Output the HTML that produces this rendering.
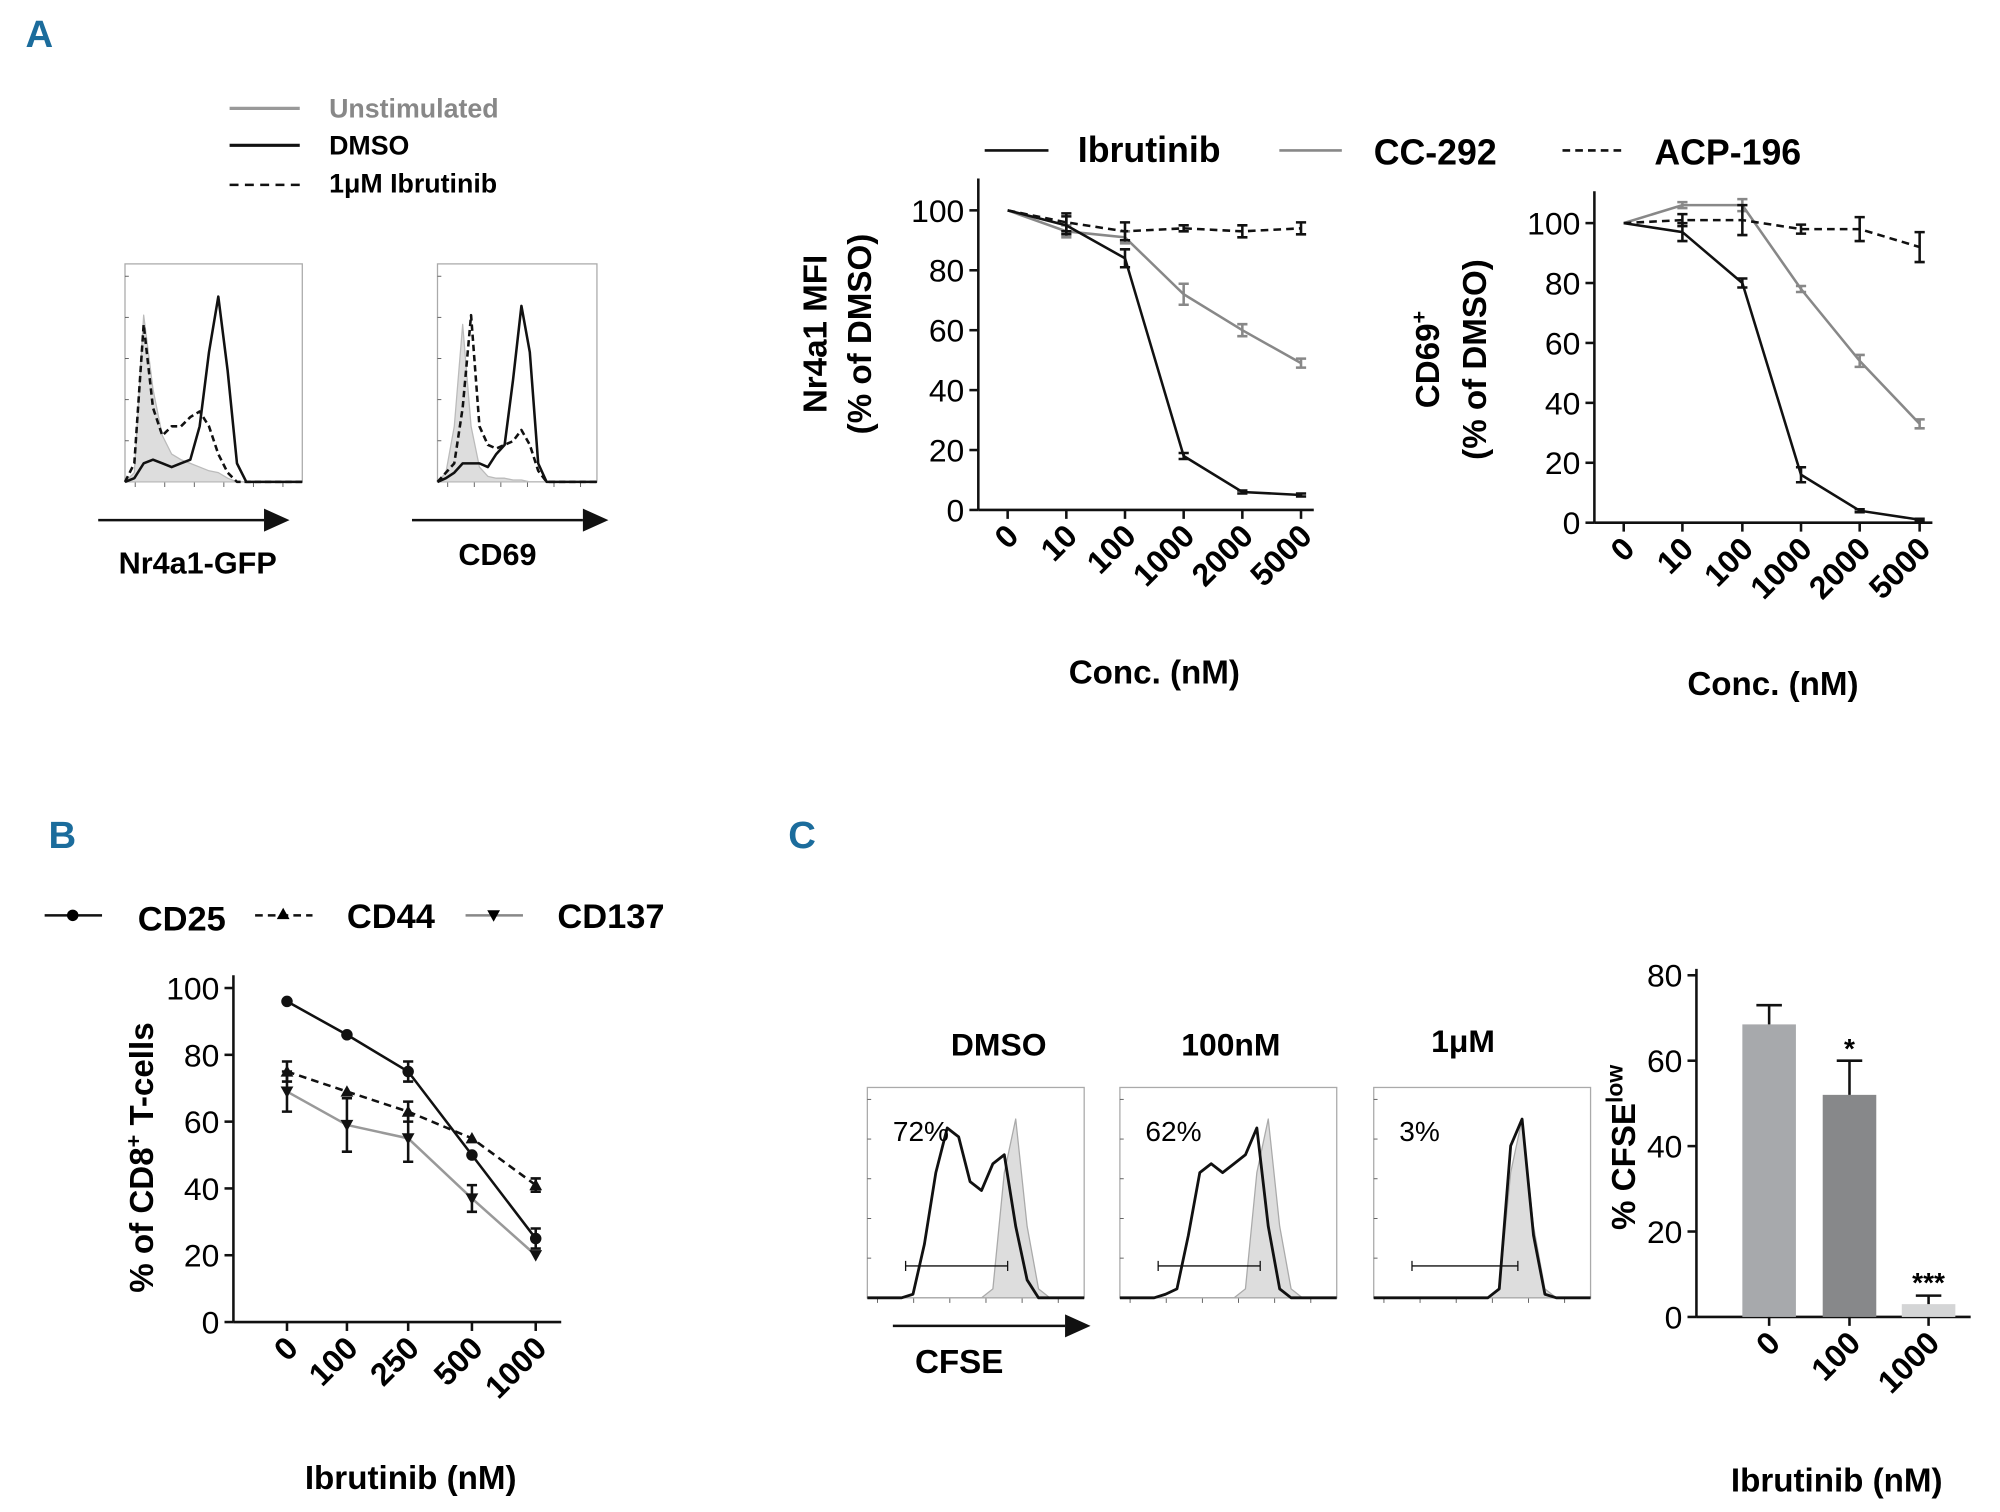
<!DOCTYPE html>
<html><head><meta charset="utf-8">
<style>
html,body{margin:0;padding:0;background:#fff;}
svg{display:block;}
text{font-family:"Liberation Sans",sans-serif;}
.b{font-weight:bold;}
.pl{font-family:"Liberation Sans Narrow","Liberation Sans",sans-serif;font-weight:bold;fill:#1b6c9c;font-size:30px;}
</style></head>
<body>
<svg id="s" width="2000" height="1512" viewBox="0 0 1568 1186" preserveAspectRatio="none" xmlns="http://www.w3.org/2000/svg">
<text x="20" y="37" class="pl">A</text>
<text x="38" y="665" class="pl">B</text>
<text x="618" y="665" class="pl">C</text>

<g font-size="21" class="b">
<line x1="180" y1="85" x2="235" y2="85" stroke="#999" stroke-width="2.5"/><text x="258" y="92" fill="#888" class="b">Unstimulated</text>
<line x1="180" y1="114" x2="235" y2="114" stroke="#111" stroke-width="2.5"/><text x="258" y="121" class="b">DMSO</text>
<line x1="180" y1="145" x2="235" y2="145" stroke="#111" stroke-width="2" stroke-dasharray="7,5"/><text x="258" y="151" class="b">1μM Ibrutinib</text>
</g>
<g id="hists"></g>
<line x1="77" y1="408" x2="207" y2="408" stroke="#111" stroke-width="2"/><path d="M207,399 L227,408 L207,417z" fill="#111"/>
<line x1="323" y1="408" x2="457" y2="408" stroke="#111" stroke-width="2"/><path d="M457,399 L477,408 L457,417z" fill="#111"/>
<text x="155" y="450" text-anchor="middle" font-size="24" class="b">Nr4a1-GFP</text>
<text x="390" y="443" text-anchor="middle" font-size="24" class="b">CD69</text>

<g font-size="28" class="b">
<line x1="772" y1="118" x2="822" y2="118" stroke="#111" stroke-width="2"/><text x="845" y="127" class="b">Ibrutinib</text>
<line x1="1003" y1="118" x2="1052" y2="118" stroke="#888" stroke-width="2"/><text x="1077" y="129" class="b">CC-292</text>
<line x1="1225" y1="118" x2="1272" y2="118" stroke="#111" stroke-width="2" stroke-dasharray="6,4"/><text x="1297" y="129" class="b">ACP-196</text>
</g>
<g id="a1"></g><g id="a2"></g><g id="bb"></g><g id="cc"></g>

<g font-size="27" class="b">
<line x1="35" y1="718" x2="80" y2="718" stroke="#111" stroke-width="2"/><circle cx="57" cy="718" r="4.5"/><text x="108" y="730" class="b">CD25</text>
<line x1="200" y1="718" x2="245" y2="718" stroke="#111" stroke-width="2" stroke-dasharray="6,4"/><path d="M222,712 L227,721 L217,721z"/><text x="272" y="728" class="b">CD44</text>
<line x1="365" y1="718" x2="410" y2="718" stroke="#888" stroke-width="2"/><path d="M382,714 L392,714 L387,723z"/><text x="437" y="728" class="b">CD137</text>
</g>
<g font-size="25" class="b">
<text x="783" y="828" text-anchor="middle" class="b">DMSO</text>
<text x="965" y="828" text-anchor="middle" class="b">100nM</text>
<text x="1147" y="825" text-anchor="middle" class="b">1μM</text>
</g>
<line x1="700" y1="1040" x2="835" y2="1040" stroke="#111" stroke-width="2"/><path d="M835,1031 L855,1040 L835,1049z" fill="#111"/>
<text x="752" y="1077" text-anchor="middle" font-size="26" class="b">CFSE</text>
</svg>
<script>
const NS="http://www.w3.org/2000/svg";
function mk(p,t,a,txt){const e=document.createElementNS(NS,t);for(const k in a)e.setAttribute(k,a[k]);if(txt!==undefined)e.textContent=txt;p.appendChild(e);return e;}

const a1Cats=["0","10","100","1000","2000","5000"];
const a1Ibr=[100,95,84,18,6,5];const a1IbrE=[0,3,3,1,0.5,0.5];
const a1Cc=[100,93,91,72,60,49];const a1CcE=[0,2,2,3.5,2,1.5];
const a1Acp=[100,96,93,94,93,94];const a1AcpE=[0,3,3,1,2,2];
const a1Ticks=[0,20,40,60,80,100];
const a2Ibr=[100,97,80,16,4,1];const a2IbrE=[0,3,1.5,2.5,0.5,0.3];
const a2Cc=[100,106,106,78,54,33];const a2CcE=[0,1,2,1,2,1.5];
const a2Acp=[100,101,101,98,98,92];const a2AcpE=[0,2,5,1.5,4,5];
const bCats=["0","100","250","500","1000"];
const bCd25=[96,86,75,50,25];const bCd25E=[0,0,3,0,3];
const bCd44=[75,69,63,55,41];const bCd44E=[3,0,3,0,2];
const bCd137=[69,59,55,37,20];const bCd137E=[6,8,7,4,0];
const bTicks=[0,20,40,60,80,100];
const cCats=["0","100","1000"];
const cVals=[68.5,52,3];const cErr=[4.5,8,2];
const cStars=["","*","***"];
const cTicks=[0,20,40,60,80];
const hUnst1=[0,.05,.9,.5,.25,.15,.12,.1,.08,.06,.05,.02,0,0,0,0,0,0,0,0];
const hDmso1=[0,.02,.1,.12,.1,.08,.1,.12,.3,.7,1,.6,.1,0,0,0,0,0,0,0];
const hIbr1=[0,.1,.85,.4,.25,.3,.3,.35,.38,.3,.15,.05,0,0,0,0,0,0,0,0];
const hUnst2=[0,.05,.3,.85,.3,.08,.03,.02,.02,.01,.01,0,0,0,0,0,0,0,0,0];
const hDmso2=[0,.02,.05,.1,.1,.1,.08,.15,.2,.55,.95,.7,.1,0,0,0,0,0,0,0];
const hIbr2=[0,.05,.1,.4,.9,.3,.2,.18,.2,.22,.28,.2,.06,0,0,0,0,0,0,0];

function lineChart(g,o){
  const {x0,yTop,yBot,xs,yScale,ticks,cats,series,xEnd}=o;
  const y=v=>o.y0-v*yScale;
  mk(g,"line",{x1:x0,y1:yTop,x2:x0,y2:yBot,stroke:"#111","stroke-width":2});
  mk(g,"line",{x1:x0,y1:yBot,x2:xEnd,y2:yBot,stroke:"#111","stroke-width":2});
  ticks.forEach(t=>{mk(g,"line",{x1:x0-7,y1:y(t),x2:x0,y2:y(t),stroke:"#111","stroke-width":2});
    const tx=mk(g,"text",{x:x0-11,y:y(t)+9,"text-anchor":"end","font-size":o.tf||25},String(t));
    
    });
  cats.forEach((c,i)=>{const x=xs[i];mk(g,"line",{x1:x,y1:yBot,x2:x,y2:yBot+7,stroke:"#111","stroke-width":2});
    const tx=mk(g,"text",{x:x+10,y:yBot+22,"text-anchor":"end","font-size":o.tf||25,"font-weight":"bold",transform:`rotate(-45 ${x+10} ${yBot+22})`},c);
    
    });
  series.forEach(s=>{
    const pts=s.v.map((v,i)=>xs[i]+","+y(v)).join(" ");
    const pl=mk(g,"polyline",{points:pts,fill:"none",stroke:s.c,"stroke-width":2,"stroke-dasharray":s.d||"none"});
    
    
    s.v.forEach((v,i)=>{const e=s.e[i];if(e>0){const a=y(v+e),b=y(v-e);
      mk(g,"path",{d:`M${xs[i]},${a}V${b}M${xs[i]-4},${a}H${xs[i]+4}M${xs[i]-4},${b}H${xs[i]+4}`,stroke:s.ec||s.c,"stroke-width":2,fill:"none"});}
      if(s.m){const X=xs[i],Y=y(v);
        if(s.m=="c")mk(g,"circle",{cx:X,cy:Y,r:4.5,fill:s.c});
        else if(s.m=="t")mk(g,"path",{d:`M${X},${Y-5}L${X+5},${Y+4}L${X-5},${Y+4}z`,fill:"#111"});
        else mk(g,"path",{d:`M${X-5},${Y-4}L${X+5},${Y-4}L${X},${Y+5}z`,fill:"#111"});}
    });
  });
}
const A1=document.getElementById("a1");
lineChart(A1,{x0:767,yTop:140,yBot:400,y0:400,yScale:2.35,xEnd:1030,ticks:a1Ticks,cats:a1Cats,xs:[790,836,882,928,974,1020],
 series:[{v:a1Cc,e:a1CcE,c:"#888",n:"cc292-line"},{v:a1Acp,e:a1AcpE,c:"#111",d:"6,4",n:"acp196-line"},{v:a1Ibr,e:a1IbrE,c:"#111",n:"ibrutinib-line"}]});
mk(A1,"text",{x:0,y:0,transform:"translate(648,262) rotate(-90)","text-anchor":"middle","font-size":26,"font-weight":"bold"},"Nr4a1 MFI");
mk(A1,"text",{x:0,y:0,transform:"translate(683,262) rotate(-90)","text-anchor":"middle","font-size":26,"font-weight":"bold"},"(% of DMSO)");
mk(A1,"text",{x:905,y:536,"text-anchor":"middle","font-size":26,"font-weight":"bold"},"Conc. (nM)");

const A2=document.getElementById("a2");
lineChart(A2,{x0:1250,yTop:150,yBot:410,y0:410,yScale:2.35,xEnd:1515,ticks:a1Ticks,cats:a1Cats,xs:[1273,1319,1366,1412,1458,1505],
 series:[{v:a2Cc,e:a2CcE,c:"#888",n:"cc292-line"},{v:a2Acp,e:a2AcpE,c:"#111",d:"6,4",n:"acp196-line"},{v:a2Ibr,e:a2IbrE,c:"#111",n:"ibrutinib-line"}]});
const t2=mk(A2,"text",{x:0,y:0,transform:"translate(1128,282) rotate(-90)","text-anchor":"middle","font-size":26,"font-weight":"bold"},"CD69");
mk(t2,"tspan",{dy:-10,"font-size":17},"+");
mk(A2,"text",{x:0,y:0,transform:"translate(1165,282) rotate(-90)","text-anchor":"middle","font-size":26,"font-weight":"bold"},"(% of DMSO)");
mk(A2,"text",{x:1390,y:545,"text-anchor":"middle","font-size":26,"font-weight":"bold"},"Conc. (nM)");

const B=document.getElementById("bb");
lineChart(B,{x0:183,yTop:765,yBot:1037,y0:1037,yScale:2.62,xEnd:440,ticks:bTicks,cats:bCats,xs:[225,272,320,370,420],
 series:[{v:bCd137,e:bCd137E,c:"#999",ec:"#111",m:"v",n:"cd137-line"},{v:bCd44,e:bCd44E,c:"#111",d:"6,4",m:"t",n:"cd44-line"},{v:bCd25,e:bCd25E,c:"#111",m:"c",n:"cd25-line"}]});
const tb=mk(B,"text",{x:0,y:0,transform:"translate(120,908) rotate(-90)","text-anchor":"middle","font-size":26,"font-weight":"bold"},"% of CD8");
mk(tb,"tspan",{dy:-10,"font-size":17},"+");mk(tb,"tspan",{dy:10}," T-cells");
mk(B,"text",{x:322,y:1168,"text-anchor":"middle","font-size":26,"font-weight":"bold"},"Ibrutinib (nM)");

const C=document.getElementById("cc");
(function(){const x0=1330,yb=1033,sc=3.35,y=v=>yb-v*sc,xs=[1387,1450,1512],cols=["#a7a9ac","#87888a","#d4d5d6"];
 mk(C,"line",{x1:x0,y1:760,x2:x0,y2:yb,stroke:"#111","stroke-width":2});
 mk(C,"line",{x1:x0,y1:yb,x2:1545,y2:yb,stroke:"#111","stroke-width":2});
 cTicks.forEach(t=>{mk(C,"line",{x1:x0-7,y1:y(t),x2:x0,y2:y(t),stroke:"#111","stroke-width":2});
  const tx=mk(C,"text",{x:x0-11,y:y(t)+9,"text-anchor":"end","font-size":25},String(t));
  
  });
 cCats.forEach((c,i)=>{const x=xs[i];
  const r=mk(C,"rect",{x:x-21,y:y(cVals[i]),width:42,height:cVals[i]*sc,fill:cols[i]});
  
  
  const top=y(cVals[i]+cErr[i]);
  mk(C,"path",{d:`M${x},${y(cVals[i])}V${top}M${x-10},${top}H${x+10}`,stroke:"#111","stroke-width":2,fill:"none"});
  if(cStars[i])mk(C,"text",{x:x,y:top+(cStars[i]=="*"?-2:-3),"text-anchor":"middle","font-size":22,"font-weight":"bold"},cStars[i]);
  mk(C,"line",{x1:x,y1:yb,x2:x,y2:yb+7,stroke:"#111","stroke-width":2});
  mk(C,"text",{x:x+10,y:yb+22,"text-anchor":"end","font-size":25,"font-weight":"bold",transform:`rotate(-45 ${x+10} ${yb+22})`},c);});
 const t=mk(C,"text",{x:0,y:0,transform:"translate(1282,900) rotate(-90)","text-anchor":"middle","font-size":26,"font-weight":"bold"},"% CFSE");
 mk(t,"tspan",{dy:-10,"font-size":18},"low");
 mk(C,"text",{x:1440,y:1170,"text-anchor":"middle","font-size":26,"font-weight":"bold"},"Ibrutinib (nM)");
})();

const H=document.getElementById("hists");
function hist(x,y,w,h,curves,name,extra){
  const g=mk(H,"g",{});
  mk(g,"rect",{x:x,y:y,width:w,height:h,fill:"none",stroke:"#aaa","stroke-width":1});
  for(let i=0;i<6;i++){const yy=y+h-i*h/5.3;mk(g,"line",{x1:x,y1:yy,x2:x+3,y2:yy,stroke:"#555","stroke-width":.7});}
  for(let i=0;i<6;i++){const xx=x+8+i*w/6;mk(g,"line",{x1:xx,y1:y+h,x2:xx,y2:y+h+4,stroke:"#555","stroke-width":.7});}
  curves.forEach(c=>{const n=c.v.length;let d=`M${x},${y+h}`;
    c.v.forEach((v,i)=>{d+=`L${x+i*w/(n-1)},${y+h-v*h*0.85}`;});
    if(c.fill)d+=`L${x+w},${y+h}z`;
    mk(g,"path",{d:d,fill:c.fill||"none",stroke:c.s,"stroke-width":c.sw||2,"stroke-dasharray":c.d||"none","stroke-linejoin":"round"});});
  if(extra)extra(g);
}
hist(98,207,139,171,[{v:hUnst1,fill:"#ddd",s:"#bbb",sw:1},{v:hIbr1,s:"#111",d:"5,3"},{v:hDmso1,s:"#111"}],"nr4a1-histogram");
hist(343,207,125,171,[{v:hUnst2,fill:"#ddd",s:"#bbb",sw:1},{v:hIbr2,s:"#111",d:"5,3"},{v:hDmso2,s:"#111"}],"cd69-histogram");
const cU=[0,0,0,0,0,0,0,0,0,0,0,0.05,.7,1,.4,.05,0,0,0,0];
const cD1=[0,0,0,0,.02,.3,.7,.95,.9,.65,.6,.75,.8,.4,.1,0,0,0,0,0];
const cD2=[0,0,0,0,.02,.05,.35,.7,.75,.7,.75,.8,.95,.4,.05,0,0,0,0,0];
const cD3=[0,0,0,0,0,0,0,0,0,0,0,.05,.85,1,.35,.02,0,0,0,0];
[[680,853,cD1,"72%",708,790,"cfse-dmso-histogram"],[878,853,cD2,"62%",908,988,"cfse-100nm-histogram"],[1077,853,cD3,"3%",1107,1190,"cfse-1um-histogram"]].forEach(a=>{
 hist(a[0],a[1],170,165,[{v:cU,fill:"#ddd",s:"#aaa",sw:1},{v:a[2],s:"#111",sw:2.2}],a[6],g=>{
  mk(g,"text",{x:a[0]+20,y:a[1]+42,"font-size":22},a[3]);
  const gx=a[0]+30;mk(g,"path",{d:`M${gx},${a[1]+140}H${a[5]}M${gx},${a[1]+136}V${a[1]+144}M${a[5]},${a[1]+136}V${a[1]+144}`,stroke:"#111","stroke-width":1,fill:"none"});
 });
});
</script>
</body></html>
